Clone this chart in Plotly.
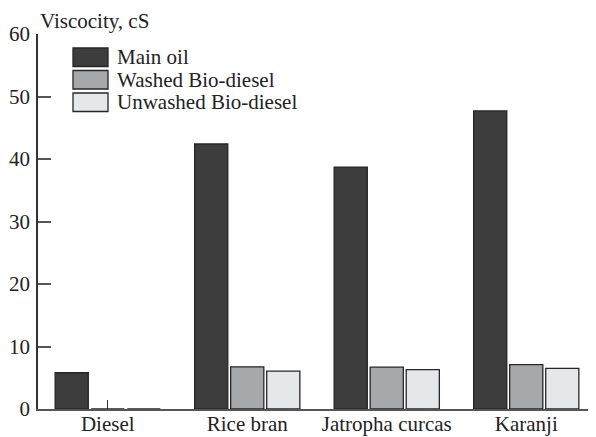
import plotly.graph_objects as go

categories = ["Diesel", "Rice bran", "Jatropha curcas", "Karanji"]
main_oil = [5.8, 42.4, 38.7, 47.7]
washed = [0, 6.75, 6.7, 7.1]
unwashed = [0, 6.05, 6.3, 6.5]
series_names = ["Main oil", "Washed Bio-diesel", "Unwashed Bio-diesel"]
colors = ["#3d3d3d", "#a7a8aa", "#e6e7e9"]
y_ticks = [0, 10, 20, 30, 40, 50, 60]

FONT = "Liberation Serif"
TXT = "#222222"

fig = go.Figure()
for name, vals, col in zip(series_names, [main_oil, washed, unwashed], colors):
    fig.add_trace(go.Bar(
        x=categories, y=vals, name=name,
        marker=dict(color=col, line=dict(color="#262626", width=1.3)),
        showlegend=False,
    ))

# page has an 8px body margin; figure covers reference pixels 8..596 / 8..437
OFF = 8
W, H = 596 - OFF, 437 - OFF
ml, mr, mt, mb = 38 - OFF, 0, 34 - OFF, 437 - 409
pw, ph = W - ml - mr, H - mt - mb

def px(x):
    return (x - OFF - ml) / pw

def py(y):
    return (H - mb - (y - OFF)) / ph

shapes = []
annotations = []
for i, (name, col) in enumerate(zip(series_names, colors)):
    top = 48 + i * 22.5
    shapes.append(dict(type="rect", xref="paper", yref="paper",
                       x0=px(73), x1=px(108), y0=py(top + 18.5), y1=py(top),
                       fillcolor=col, line=dict(color="#262626", width=1.3)))
    annotations.append(dict(text=name, xref="paper", yref="paper",
                            x=px(115), y=py(top + 9.5), xanchor="left", yanchor="middle",
                            showarrow=False, font=dict(family=FONT, size=21, color=TXT)))

annotations.append(dict(text="Viscocity, cS", xref="paper", yref="paper",
                        x=px(38), y=py(21), xanchor="left", yanchor="middle",
                        showarrow=False, font=dict(family=FONT, size=21, color=TXT)))

fig.update_layout(
    width=W, height=H,
    margin=dict(l=ml, r=mr, t=mt, b=mb, pad=0, autoexpand=False),
    paper_bgcolor="white", plot_bgcolor="white",
    barmode="group", bargap=0.225, bargroupgap=0.08,
    font=dict(family=FONT, size=21, color=TXT),
    shapes=shapes, annotations=annotations,
    xaxis=dict(
        type="category", range=[-0.5, 3.5], automargin=False,
        showline=True, linecolor="#555", linewidth=2,
        ticks="inside", ticklen=9, tickcolor="#333", tickwidth=1.2,
        layer="below traces", ticklabelstandoff=-5,
        showgrid=False, zeroline=False, tickfont=dict(size=21),
    ),
    yaxis=dict(
        range=[0, 60], tickvals=y_ticks, automargin=False,
        showline=True, linecolor="#333", linewidth=1.5,
        ticks="inside", ticklen=13, tickcolor="#555", tickwidth=1.5,
        ticklabelstandoff=2,
        showgrid=False, zeroline=False, tickfont=dict(size=21),
    ),
)
fig.write_html("out.html")
